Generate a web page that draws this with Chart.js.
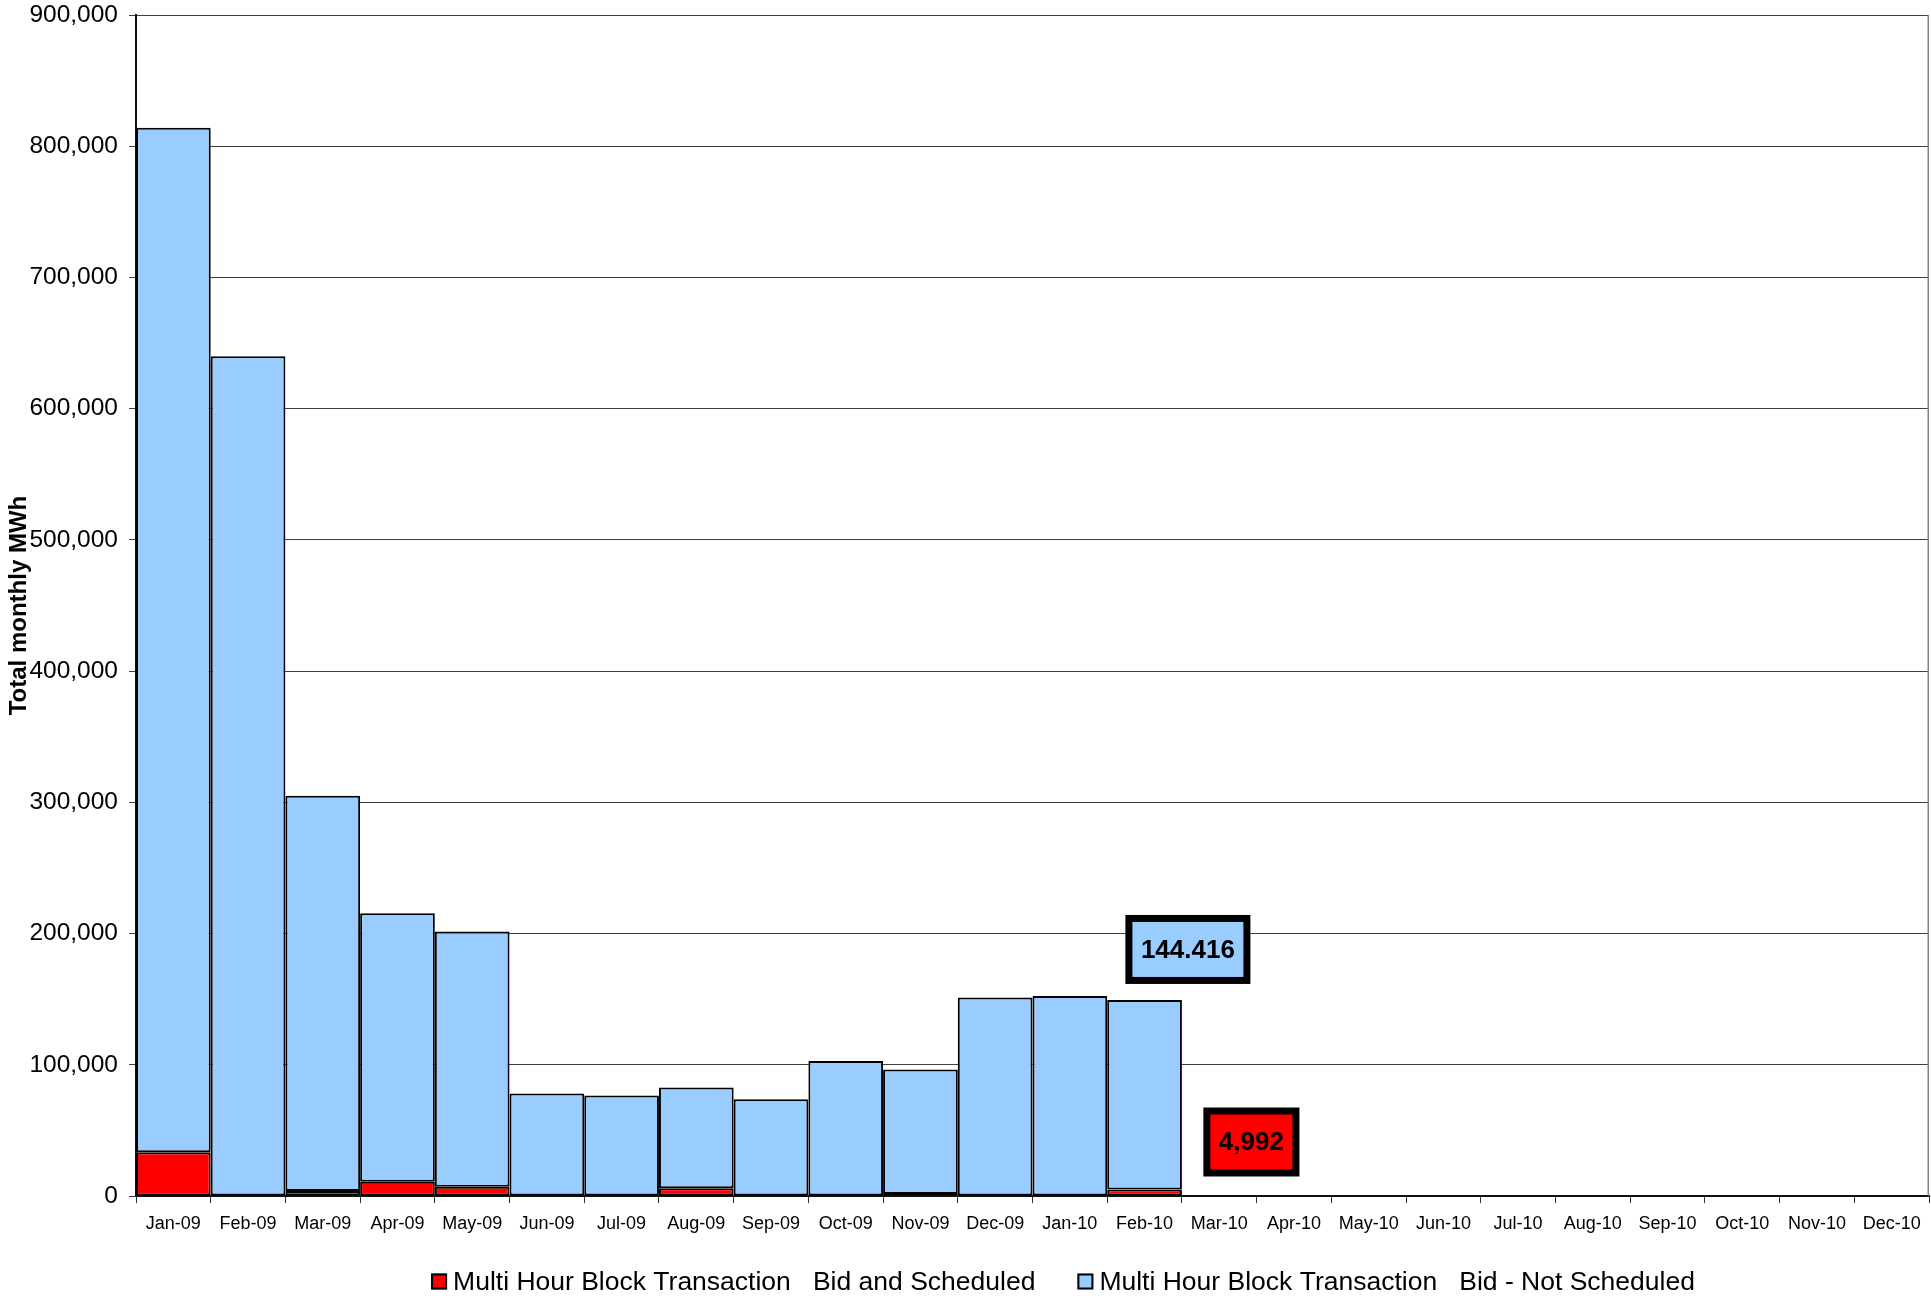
<!DOCTYPE html>
<html>
<head>
<meta charset="utf-8">
<script src="https://cdn.jsdelivr.net/npm/chart.js@4/dist/chart.umd.min.js"></script>
<style>
  html, body { margin: 0; padding: 0; background: #fff; overflow: hidden; }
  #wrap { width: 1931px; height: 1302px; }
</style>
</head>
<body>
<div id="wrap"><canvas id="c" width="1931" height="1302"></canvas></div>
<script>
// Monthly multi hour block transaction volumes (MWh)
const months = ['Jan-09', 'Feb-09', 'Mar-09', 'Apr-09', 'May-09', 'Jun-09', 'Jul-09', 'Aug-09',
  'Sep-09', 'Oct-09', 'Nov-09', 'Dec-09', 'Jan-10', 'Feb-10', 'Mar-10', 'Apr-10', 'May-10',
  'Jun-10', 'Jul-10', 'Aug-10', 'Sep-10', 'Oct-10', 'Nov-10', 'Dec-10'];

const bidScheduled = [33300, 0, 3800, 10900, 7100, 0, 0, 5900, 0, 0, 1500, 0, 0, 4992,
  null, null, null, null, null, null, null, null, null, null];

const bidNotScheduled = [780700, 640000, 301200, 204600, 194400, 78100, 76600, 76800, 73800,
  102800, 94900, 151200, 152400, 144416,
  null, null, null, null, null, null, null, null, null, null];

const seriesNames = [
  'Multi Hour Block Transaction   Bid and Scheduled',
  'Multi Hour Block Transaction   Bid - Not Scheduled'
];
const seriesColors = ['#FF0000', '#99CCFF'];

const yMin = 0;
const yMax = 900000;
const yStep = 100000;
const yTitle = 'Total monthly MWh';

const FONT = '"Liberation Sans", Arial, Helvetica, sans-serif';

// Value callout box with a heavy black frame
function valueBox(ctx, text, cx, cy, fill) {
  ctx.font = 'bold 26px ' + FONT;
  const tw = ctx.measureText(text).width;
  const frame = 7, padX = 8.5, innerH = 55;
  const w = tw + 2 * padX + 2 * frame;
  const h = innerH + 2 * frame;
  const x = cx - w / 2, y = cy - h / 2;
  ctx.fillStyle = '#000';
  ctx.fillRect(x, y, w, h);
  ctx.fillStyle = fill;
  ctx.fillRect(x + frame, y + frame, w - 2 * frame, h - 2 * frame);
  ctx.fillStyle = '#000';
  ctx.textAlign = 'center';
  ctx.textBaseline = 'middle';
  ctx.fillText(text, cx, cy + 1);
}

const decorations = {
  id: 'decorations',
  beforeDatasetsDraw(chart) {
    // plot-area frame on the right side
    const { ctx, chartArea: a } = chart;
    ctx.save();
    ctx.strokeStyle = '#808080';
    ctx.lineWidth = 1.5;
    ctx.beginPath();
    ctx.moveTo(a.right - 0.75, a.top);
    ctx.lineTo(a.right - 0.75, a.bottom);
    ctx.stroke();
    ctx.restore();
  },
  afterDraw(chart) {
    const { ctx } = chart;
    ctx.save();

    // callouts for the latest month
    let last = -1;
    bidNotScheduled.forEach((v, i) => { if (v !== null) last = i; });
    const blueBar = chart.getDatasetMeta(1).data[last];
    const redBar = chart.getDatasetMeta(0).data[last];
    const bw = blueBar.width;
    valueBox(ctx, bidNotScheduled[last].toLocaleString('en-US').replace(/,/g, '.'),
      blueBar.x + bw * 0.58, blueBar.y - 50.5, seriesColors[1]);
    valueBox(ctx, bidScheduled[last].toLocaleString('en-US'),
      redBar.x + bw * 1.43, redBar.base - 53.5, seriesColors[0]);

    // legend
    ctx.font = '26.5px ' + FONT;
    const box = 16, gap = 6, itemGap = 42;
    const items = seriesNames.map((t, i) => ({ text: t, color: seriesColors[i], w: ctx.measureText(t).width }));
    const total = items.reduce((s, it) => s + box + gap + it.w, 0) + itemGap * (items.length - 1);
    let x = (chart.width + 195) / 2 - total / 2;
    const cy = chart.height - 20.5;
    ctx.textAlign = 'left';
    ctx.textBaseline = 'middle';
    items.forEach(it => {
      ctx.fillStyle = it.color;
      ctx.fillRect(x, cy - box / 2, box, box);
      ctx.strokeStyle = '#000';
      ctx.lineWidth = 2;
      ctx.strokeRect(x + 1, cy - box / 2 + 1, box - 2, box - 2);
      ctx.fillStyle = '#000';
      ctx.fillText(it.text, x + box + gap, cy + 1);
      x += box + gap + it.w + itemGap;
    });
    ctx.restore();
  }
};

new Chart(document.getElementById('c').getContext('2d'), {
  type: 'bar',
  data: {
    labels: months,
    datasets: [
      { label: seriesNames[0], data: bidScheduled, backgroundColor: seriesColors[0],
        borderColor: '#000', borderWidth: 2, borderSkipped: false, stack: 'mwh' },
      { label: seriesNames[1], data: bidNotScheduled, backgroundColor: seriesColors[1],
        borderColor: '#000', borderWidth: 2, borderSkipped: false, stack: 'mwh' }
    ]
  },
  options: {
    responsive: false,
    animation: false,
    devicePixelRatio: 1,
    layout: { padding: { top: 15, right: 2, bottom: 0, left: 0 } },
    datasets: { bar: { categoryPercentage: 1, barPercentage: 1, inflateAmount: 0 } },
    plugins: { legend: { display: false }, tooltip: { enabled: false } },
    scales: {
      x: {
        stacked: true,
        grid: { offset: true, drawOnChartArea: false, drawTicks: true, tickLength: 7, color: '#333', lineWidth: 1 },
        border: { color: '#111', width: 2 },
        ticks: { font: { family: FONT, size: 18 }, color: '#000', padding: 10, maxRotation: 0, autoSkip: false },
        afterFit(scale) { scale.height = 106; }
      },
      y: {
        stacked: true,
        min: yMin,
        max: yMax,
        ticks: {
          stepSize: yStep,
          callback: v => v.toLocaleString('en-US'),
          font: { family: FONT, size: 24.5 },
          color: '#000',
          padding: 11
        },
        grid: { color: '#404040', lineWidth: 1, tickLength: 7 },
        border: { color: '#111', width: 2 },
        title: {
          display: true, text: yTitle, color: '#000',
          font: { family: FONT, size: 24, weight: 'bold' },
          padding: { top: 5, bottom: 0 }
        },
        afterFit(scale) {
          scale.width = 136;
          scale.paddingTop = 0;
          scale.paddingBottom = 0;
        }
      }
    }
  },
  plugins: [decorations]
});
</script>
</body>
</html>
